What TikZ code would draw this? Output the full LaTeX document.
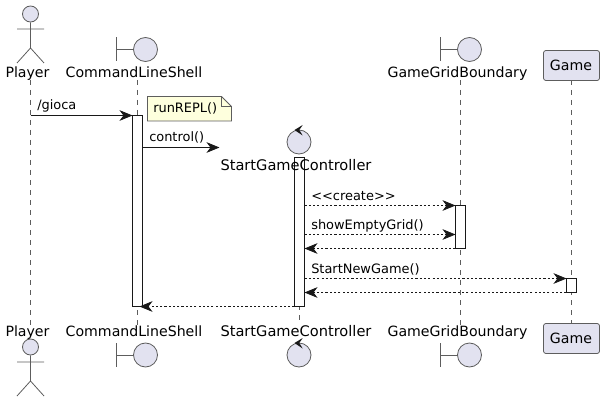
\documentclass[tikz,border=0pt]{standalone}
\usepackage{fontspec}
\setmainfont{DejaVu Sans}
\usetikzlibrary{arrows.meta}
\definecolor{umlfill}{HTML}{E2E2F0}
\definecolor{umlline}{HTML}{181818}
\definecolor{notefill}{HTML}{FEFFDD}
\tikzset{
  lifeline/.style={draw=umlline!70,line width=0.5pt,dash pattern=on 3.75pt off 3.75pt},
  symline/.style={draw=umlline!70,line width=0.6pt},
  symcircle/.style={circle,draw=umlline!70,fill=umlfill,line width=0.6pt,inner sep=0pt,minimum size=18pt},
  headcircle/.style={circle,draw=umlline!70,fill=umlfill,line width=0.6pt,inner sep=0pt,minimum size=12pt},
  namelabel/.style={font=\fontsize{10.6pt}{12pt}\selectfont,text=black,inner sep=0pt,anchor=base},
  msglabel/.style={font=\fontsize{9.7pt}{11pt}\selectfont,text=black,inner sep=0pt,anchor=base west},
  gamebox/.style={rectangle,rounded corners=1.8pt,draw=umlline!70,fill=umlfill,line width=0.6pt,
    minimum width=42pt,minimum height=22.5pt,inner sep=0pt},
  barbox/.style={draw=umlline,fill=white,line width=0.6pt,minimum width=7.5pt,inner sep=0pt,outer sep=0pt,anchor=north},
  msg/.style={draw=umlline,line width=0.6pt,-{Stealth[length=9.75pt,width=8pt,inset=3pt,fill=umlline]}},
  reply/.style={msg,dash pattern=on 1.6pt off 1.6pt},
}

\begin{document}
\begin{tikzpicture}[x=0.75pt,y=-0.75pt]
    \useasboundingbox (0,0) rectangle (604,403);
    % lifelines
    \foreach \lname/\lx/\ltop in {player/30.5/80, shell/137.5/80, ctl/299.5/175, grid/460.5/80, game/571.5/80} {
      \coordinate (\lname top) at (\lx,\ltop);
      \coordinate (\lname end) at (\lx,325);
      \draw[lifeline] (\lname top) -- (\lname end);
    }
    % activations
    \node[barbox,minimum height=143.25pt] (shellbar) at (137.5,115.5) {};
    \node[barbox,minimum height=111.75pt] (ctlbar) at (299.5,157.5) {};
    \node[barbox,minimum height=32.25pt] (gridbar) at (460.5,205.5) {};
    \node[barbox,minimum height=10.5pt] (gamebar) at (571.5,278.5) {};
    % top and bottom symbols
    \foreach \yoff in {0, 333} {
      \begin{scope}[shift={(0,\yoff)}]
        \node[headcircle] (playerhead\yoff) at (30.5,14) {};
        \draw[symline] (playerhead\yoff.south) -- (30.5,48) -- (17,63) (30.5,48) -- (44,63) (17,29) -- (44,29);
      \end{scope}
    }
    \foreach \yoff/\spot in {0/top, 305.5/bot} {
      \begin{scope}[shift={(0,\yoff)}]
        \node[symcircle] (shellsym\spot) at (145.5,49.5) {};
        \draw[symline] (116.5,37.5) -- (116.5,61.5) (116.5,49.5) -- (shellsym\spot.west);
        \node[symcircle] (gridsym\spot) at (469.5,49.5) {};
        \draw[symline] (440.5,37.5) -- (440.5,61.5) (440.5,49.5) -- (gridsym\spot.west);
      \end{scope}
    }
    \foreach \cy in {142, 355} {
      \node[symcircle] (ctlsym\cy) at (299,\cy) {};
      \fill[umlline] (294.5,\cy-12) -- (302.7,\cy-17) -- (299.3,\cy-12) -- (302.7,\cy-6.5) -- cycle;
    }
    \node[gamebox] (gametop) at (571.5,65.5) {};
    \node[gamebox] (gamebot) at (571.5,338.5) {};
    % names
    \foreach \ylab in {78, 336} {
      \node[namelabel] at (27.5,\ylab) {Player};
      \node[namelabel] at (134,\ylab) {CommandLineShell};
      \node[namelabel] at (457.5,\ylab) {GameGridBoundary};
    }
    \node[namelabel] (gamename) at (571,70.3) {Game};
    \node[namelabel] at (571,343.3) {Game};
    \node[namelabel,font=\fontsize{10.95pt}{12pt}\selectfont] (ctlname) at (296,171) {StartGameController};
    \node[namelabel,font=\fontsize{10.95pt}{12pt}\selectfont] at (296,336) {StartGameController};
    % note
    \draw[symline,fill=notefill] (147.5,96.5) -- (221.5,96.5) -- (231.5,106.5) -- (231.5,121) -- (147.5,121) -- cycle;
    \draw[symline] (221.5,96.5) -- (221.5,106.5) -- (231.5,106.5);
    \node[msglabel] (runrepl) at (153,113) {runREPL()};
    % messages
    \coordinate (giocastart) at (30.5,115.5);
    \coordinate (controlstart) at (142.5,147.5);
    \coordinate (controlend) at (219.5,147.5);
    \coordinate (createstart) at (304.5,205.5);
    \coordinate (showstart) at (304.5,234.5);
    \coordinate (showend) at (455.5,234.5);
    \coordinate (gridback) at (304.5,248.5);
    \coordinate (newstart) at (304.5,278.5);
    \coordinate (gameback) at (304.5,292.5);
    \coordinate (shellback) at (139.5,306.5);
    \draw[msg] (giocastart) -- (shellbar.north west);
    \node[msglabel] at (37,110) {/gioca};
    \draw[msg] (controlstart) -- (controlend);
    \node[msglabel] at (149,142) {control()};
    \draw[reply] (createstart) -- (gridbar.north west);
    \node[msglabel] at (311,200) {{<}{<}create{>}{>}};
    \draw[reply] (showstart) -- (showend);
    \node[msglabel] at (311,229) {showEmptyGrid()};
    \draw[reply] (gridbar.south west) -- (gridback);
    \draw[reply] (newstart) -- (gamebar.north west);
    \node[msglabel] at (311,273) {StartNewGame()};
    \draw[reply] (gamebar.south west) -- (gameback);
    \draw[reply] (ctlbar.south west) -- (shellback);
  \end{tikzpicture}
\end{document}
